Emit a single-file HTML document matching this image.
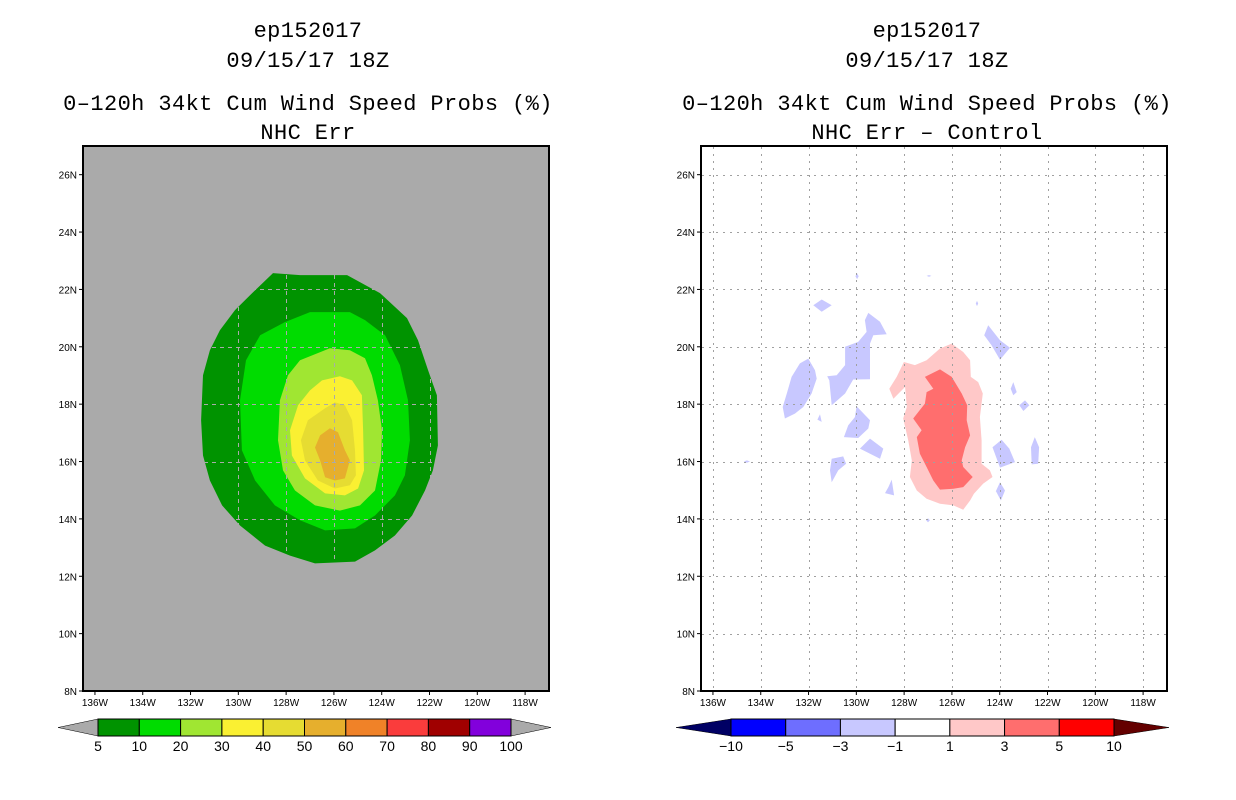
<!DOCTYPE html>
<html><head><meta charset="utf-8">
<style>
body{margin:0;background:#fff;width:1236px;height:800px;overflow:hidden}
svg{display:block}
text{font-family:"Liberation Sans",sans-serif}
.ttl text{font-family:"Liberation Mono",monospace}
</style></head>
<body>
<svg id="root" width="1236" height="800" xmlns="http://www.w3.org/2000/svg">
<g class="ttl" font-size="22" letter-spacing="0.4" text-anchor="middle" fill="#000">
<text x="308" y="37">ep152017</text>
<text x="308" y="67">09/15/17 18Z</text>
<text x="308" y="110">0–120h 34kt Cum Wind Speed Probs (%)</text>
<text x="308" y="139">NHC Err</text>
</g>
<g class="ttl" font-size="22" letter-spacing="0.4" text-anchor="middle" fill="#000">
<text x="927" y="37">ep152017</text>
<text x="927" y="67">09/15/17 18Z</text>
<text x="927" y="110">0–120h 34kt Cum Wind Speed Probs (%)</text>
<text x="927" y="139">NHC Err – Control</text>
</g>
<g id="left"></g>
<g id="right"></g>
<g id="cbL"></g>
<g id="cbR"></g>
</svg>
<script>
const lonTicks=[-136,-134,-132,-130,-128,-126,-124,-122,-120,-118];
const latTicks=[8,10,12,14,16,18,20,22,24,26];
const lonMin=-136.5, lonMax=-117.0, latMin=8, latMax=27;

const p5=[[-128.55,22.57],[-127.42,22.5],[-125.45,22.5],[-124.07,21.87],[-122.94,21.0],[-122.48,20.23],[-122.06,19.18],[-121.69,18.31],[-121.65,16.56],[-121.86,15.69],[-122.19,14.99],[-122.73,14.12],[-123.45,13.42],[-124.28,12.9],[-125.12,12.51],[-126.79,12.45],[-127.84,12.72],[-128.88,13.07],[-129.93,13.77],[-130.68,14.47],[-131.19,15.34],[-131.48,16.21],[-131.56,17.44],[-131.48,19.01],[-131.19,19.88],[-130.77,20.58],[-130.14,21.28],[-129.51,21.8]];
const p10=[[-127.0,21.21],[-125.33,21.21],[-124.7,20.93],[-123.86,20.4],[-123.24,19.36],[-122.9,18.13],[-122.82,16.74],[-123.03,15.52],[-123.45,14.82],[-124.28,14.12],[-125.12,13.67],[-126.37,13.6],[-127.42,13.95],[-128.47,14.47],[-129.3,15.34],[-129.85,16.39],[-129.93,18.13],[-129.68,19.53],[-129.09,20.4],[-128.05,20.86]];
const p20=[[-127.42,19.53],[-126.17,19.95],[-125.33,19.88],[-124.7,19.6],[-124.41,19.01],[-124.16,18.13],[-123.99,17.09],[-124.03,16.04],[-124.28,14.99],[-124.91,14.47],[-125.75,14.29],[-126.79,14.47],[-127.63,14.99],[-128.13,15.69],[-128.34,16.74],[-128.26,18.13],[-127.92,19.01]];
const p30=[[-126.5,18.83],[-125.75,18.97],[-125.24,18.83],[-124.83,18.31],[-124.78,17.09],[-124.74,15.69],[-124.99,15.06],[-125.54,14.82],[-126.37,14.89],[-127.21,15.41],[-127.76,16.21],[-127.84,17.09],[-127.5,17.96],[-127.0,18.48]];
const p40=[[-126.37,17.86],[-125.96,18.06],[-125.54,17.96],[-125.24,17.44],[-125.12,16.39],[-125.08,15.52],[-125.33,15.17],[-125.96,15.06],[-126.67,15.34],[-127.21,16.04],[-127.38,16.74],[-127.09,17.44]];
const p50=[[-126.58,16.91],[-126.17,17.16],[-125.83,17.02],[-125.54,16.39],[-125.33,16.04],[-125.54,15.41],[-125.96,15.34],[-126.37,15.45],[-126.58,16.04],[-126.79,16.49]];

const diffPos1=[[-126.01,20.11],[-125.53,19.82],[-125.24,19.53],[-125.21,18.95],[-124.9,18.77],[-124.71,18.37],[-124.83,17.55],[-124.76,16.74],[-124.76,15.92],[-124.41,15.69],[-124.3,15.46],[-124.69,15.23],[-125.08,14.88],[-125.24,14.64],[-125.53,14.32],[-125.94,14.47],[-126.5,14.53],[-127.06,14.7],[-127.47,14.99],[-127.76,15.46],[-127.68,16.04],[-127.83,16.74],[-128.04,17.5],[-127.89,17.9],[-127.96,18.6],[-128.45,18.19],[-128.62,18.54],[-128.31,18.95],[-128.01,19.47],[-127.55,19.36],[-127.06,19.53],[-126.5,19.94]];
const diffPos3=[[-126.5,19.21],[-126.01,18.95],[-125.59,18.37],[-125.36,17.96],[-125.38,17.44],[-125.24,16.91],[-125.45,16.5],[-125.59,16.04],[-125.53,15.81],[-125.13,15.46],[-125.53,15.11],[-125.94,15.05],[-126.5,15.02],[-126.78,15.34],[-127.06,15.81],[-127.34,16.27],[-127.47,16.85],[-127.27,17.09],[-127.62,17.5],[-127.13,18.02],[-127.06,18.42],[-126.78,18.54],[-127.13,18.95]];
const diffNeg1=[
[[-132.01,19.59],[-131.73,19.18],[-131.66,18.89],[-131.87,18.37],[-132.22,17.9],[-132.57,17.67],[-132.99,17.5],[-133.08,17.9],[-132.91,18.37],[-132.71,18.95],[-132.36,19.42]],
[[-129.5,21.18],[-129.01,20.87],[-128.73,20.44],[-129.29,20.4],[-129.43,20.11],[-129.43,18.87],[-130.13,18.86],[-130.47,18.37],[-131.03,17.96],[-131.13,18.83],[-131.22,18.97],[-130.82,19.01],[-130.47,19.36],[-130.47,20.0],[-129.92,20.17],[-129.57,20.52],[-129.64,20.93]],
[[-131.8,21.45],[-131.45,21.65],[-131.03,21.45],[-131.45,21.22]],
[[-129.99,17.93],[-129.43,17.44],[-129.5,17.15],[-129.92,16.82],[-130.52,16.85],[-130.34,17.26],[-130.06,17.55]],
[[-129.43,16.8],[-128.87,16.45],[-129.01,16.1],[-129.85,16.45]],
[[-131.03,16.1],[-130.55,16.18],[-130.43,15.92],[-130.76,15.69],[-131.03,15.28],[-131.1,15.69]],
[[-128.52,15.37],[-128.42,14.82],[-128.8,14.9],[-128.66,15.11]],
[[-131.52,17.65],[-131.45,17.38],[-131.63,17.46]],
[[-124.48,20.75],[-123.99,20.23],[-123.57,19.97],[-123.99,19.55],[-124.34,20.05],[-124.65,20.4]],
[[-123.43,18.77],[-123.29,18.42],[-123.43,18.31],[-123.54,18.54]],
[[-122.94,18.13],[-122.76,17.96],[-123.01,17.76],[-123.18,17.96]],
[[-123.92,16.76],[-123.6,16.45],[-123.36,15.98],[-123.99,15.79],[-124.3,16.5]],
[[-122.53,16.85],[-122.35,16.5],[-122.39,15.92],[-122.66,15.9],[-122.69,16.5]],
[[-123.99,15.28],[-123.78,14.99],[-123.95,14.64],[-124.16,14.97]],
[[-129.97,22.56],[-129.9,22.46],[-129.97,22.36],[-130.04,22.46]],
[[-126.96,22.5],[-126.86,22.47],[-126.96,22.44],[-127.06,22.47]],
[[-124.95,21.6],[-124.9,21.51],[-124.95,21.42],[-125.0,21.51]],
[[-127.0,14.02],[-126.92,13.95],[-127.0,13.88],[-127.08,13.95]],
[[-134.58,16.04],[-134.45,16.0],[-134.58,15.96],[-134.71,16.0]]
];

const cbLLabels=["5","10","20","30","40","50","60","70","80","90","100"];
const cbLColors=["#009300","#00dc00","#a0e632","#faf032","#e6dc32","#e6af2d","#f08228","#fa3c3c","#a00000","#8200dc"];
const cbRLabels=["−10","−5","−3","−1","1","3","5","10"];
const cbRColors=["#0000ff","#6e6eff","#c8c8ff","#ffffff","#ffc8c8","#ff6e6e","#ff0000"];

const NS='http://www.w3.org/2000/svg';
function mk(tag,attrs,parent){const e=document.createElementNS(NS,tag);for(const k in attrs)e.setAttribute(k,attrs[k]);parent.appendChild(e);return e;}
function axes(x0){return {x:lon=>x0+(lon-lonMin)/(lonMax-lonMin)*466, y:lat=>146+(latMax-lat)/(latMax-latMin)*545};}
function pts(poly,ax){return poly.map(p=>ax.x(p[0]).toFixed(1)+','+ax.y(p[1]).toFixed(1)).join(' ');}

function panel(g,x0,bg,fills,gridStyle){
  const ax=axes(x0);
  const r=mk('rect',{x:x0,y:146,width:466,height:545,fill:bg},g);
  
  
  fills.forEach(f=>{
    const pg=mk('polygon',{points:pts(f.poly,ax),fill:f.color},g);
    
    
  });
  const grid=mk('g',{stroke:gridStyle.c,'stroke-width':1,'stroke-dasharray':gridStyle.d,fill:'none'},g);
  
  
  lonTicks.forEach(l=>{const x=Math.round(ax.x(l))+0.5;mk('line',{x1:x,x2:x,y1:147,y2:690},grid);});
  latTicks.forEach(l=>{if(l<=latMin)return;const y=Math.round(ax.y(l))+0.5;mk('line',{x1:x0+1,x2:x0+465,y1:y,y2:y},grid);});
  const fr=mk('rect',{x:x0,y:146,width:466,height:545,fill:'none',stroke:'#000','stroke-width':2},g);
  
  
  const tk=mk('g',{'font-size':10,fill:'#000'},g);
  
  
  lonTicks.forEach(l=>{const x=ax.x(l);mk('line',{x1:x,x2:x,y1:691,y2:695,stroke:'#000'},tk);
    const t=mk('text',{x:x,y:706,'text-anchor':'middle'},tk);t.textContent=(-l)+'W';
    });
  latTicks.forEach(l=>{const y=ax.y(l);mk('line',{x1:x0-4,x2:x0,y1:y,y2:y,stroke:'#000'},tk);
    const t=mk('text',{x:x0-6,y:y+4,'text-anchor':'end'},tk);t.textContent=l+'N';
    });
}

panel(document.getElementById('left'),83,'#aaaaaa',[
 {poly:p5,color:cbLColors[0],name:'contour-5'},{poly:p10,color:cbLColors[1],name:'contour-10'},
 {poly:p20,color:cbLColors[2],name:'contour-20'},{poly:p30,color:cbLColors[3],name:'contour-30'},
 {poly:p40,color:cbLColors[4],name:'contour-40'},{poly:p50,color:cbLColors[5],name:'contour-50'}],
 {c:'#aaaaaa',d:'4,4'});

const rf=[{poly:diffPos1,color:cbRColors[4],name:'diff-contour-1'},{poly:diffPos3,color:cbRColors[5],name:'diff-contour-3'}];
diffNeg1.forEach(p=>rf.push({poly:p,color:cbRColors[2],name:'diff-contour-neg1'}));
panel(document.getElementById('right'),701,'#ffffff',rf,{c:'#a0a0a0',d:'2,5'});

function colorbar(g,x0,x1,tri,colors,labels,lo,hi){
  const n=colors.length, w=(x1-x0)/n, y0=719,h=17;
  const a=mk('polygon',{points:`${x0-tri},${y0+h/2} ${x0},${y0} ${x0},${y0+h}`,fill:lo,stroke:'#000','stroke-width':0.5},g);
  
  const b=mk('polygon',{points:`${x1+tri},${y0+h/2} ${x1},${y0} ${x1},${y0+h}`,fill:hi,stroke:'#000','stroke-width':0.5},g);
  
  colors.forEach((c,i)=>{const r=mk('rect',{x:x0+i*w,y:y0,width:w,height:h,fill:c,stroke:'#000','stroke-width':1},g);
    });
  labels.forEach((l,i)=>{const t=mk('text',{x:x0+i*w,y:751,'text-anchor':'middle','font-size':14,fill:'#000'},g);t.textContent=l;
    });
}
colorbar(document.getElementById('cbL'),98,511,40,cbLColors,cbLLabels,'#aaaaaa','#aaaaaa');
colorbar(document.getElementById('cbR'),731,1114,55,cbRColors,cbRLabels,'#000064','#640000');
</script>
</body></html>
